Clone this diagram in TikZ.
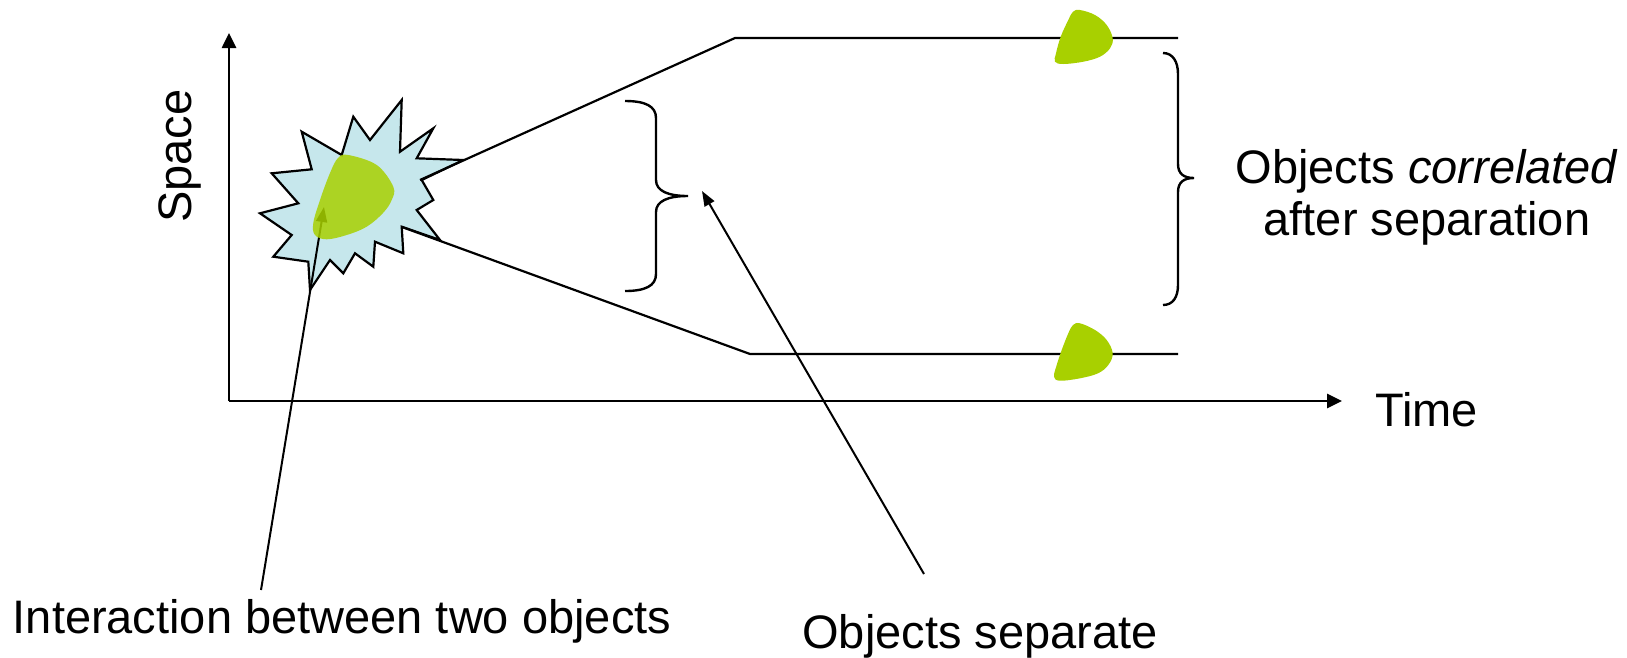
\documentclass[tikz,border=0pt]{standalone}
\usepackage{fontspec}
\setmainfont{Liberation Sans}
\usetikzlibrary{arrows.meta}
\definecolor{burstblue}{RGB}{198,231,236}
\definecolor{limegreen}{RGB}{168,208,0}
\begin{document}
\begin{tikzpicture}[x=1pt,y=-1pt,
  axis/.style={line width=2.6pt,-{Triangle[length=15pt,width=14pt]}},
  track/.style={line width=2.2pt, line join=miter},
  pointer/.style={line width=2pt,-{Triangle[length=15pt,width=11pt]}},
  bracket/.style={line width=2.4pt},
  label/.style={font=\fontsize{47}{52}\selectfont, inner sep=0pt},
  object/.style={fill=limegreen, draw=none},
  burst/.style={fill=burstblue, draw=black, line width=2.2pt, line join=miter},
]
\useasboundingbox (0,0) rectangle (1627,657);

% axes
\coordinate (origin) at (229,401);
\coordinate (spacetop) at (229,33);
\coordinate (timeend) at (1342,401);
\draw[axis] (origin) -- (spacetop);
\draw[axis] (origin) -- (timeend);

% interaction burst
\draw[burst] (401.7,100) -- (400,151.7) -- (433.3,128.3) -- (416.7,158.3)
  -- (463.3,160) -- (421.7,180) -- (433.3,200) -- (416.7,210)
  -- (440,240) -- (401.7,226.7) -- (403.3,253.3) -- (375,241.7)
  -- (373.3,266.7) -- (355,253.3) -- (343.3,273.3) -- (330,260)
  -- (310,290) -- (308.3,261.7) -- (273.3,256.7) -- (291.7,235)
  -- (260,213.3) -- (298.3,203.3) -- (271.7,173.3) -- (311.7,169.3)
  -- (301.7,131.7) -- (341.7,155) -- (353.3,116.7) -- (370,140) -- cycle;

% trajectories of the two objects
\coordinate (upstart) at (420,180);
\coordinate (upbend) at (735,38);
\coordinate (upend) at (1178,38);
\coordinate (lowstart) at (402,227);
\coordinate (lowbend) at (750,354);
\coordinate (lowend) at (1178,354);
\draw[track] (upstart) -- (upbend) -- (upend);
\draw[track] (lowstart) -- (lowbend) -- (lowend);

% pointer to the interaction
\coordinate (interfoot) at (261,590);
\coordinate (intertip) at (324,207);
\draw[pointer] (interfoot) -- (intertip);

% the merged object inside the burst
\fill[object, opacity=0.85] plot[smooth cycle, tension=0.6] coordinates {
  (348.3,155) (376.7,165) (393.3,186.7) (391.7,200) (383,213) (366.7,226.7)
  (346.7,235) (326.7,239.3) (315,235) (313.3,223) (320,200) (330,173) (338,158)};

% the separated objects
\fill[object] plot[smooth cycle, tension=0.6] coordinates {
  (1080,10) (1095,15) (1106.7,25) (1112.7,38.3) (1110,48.3) (1100,56.7)
  (1083.3,61.7) (1063.3,64) (1055,61.7) (1056,53.3) (1060.7,36.7)
  (1068.3,20) (1073,11.7)};
\fill[object] plot[smooth cycle, tension=0.6] coordinates {
  (1080,323.3) (1095,330) (1106.7,340) (1112.7,353.3) (1108.3,365) (1098,373.3)
  (1080,378.3) (1060,380.7) (1054,376.7) (1056.7,365) (1061.7,350)
  (1068.3,333.3) (1073,325)};

% small brace
\coordinate (sbtop) at (625,101);
\coordinate (sbtip) at (688,196);
\coordinate (sbbot) at (625,291);
\draw[bracket] (sbtop) .. controls (645,101) and (656,106) .. (656,118)
  -- (656,180) .. controls (656,191) and (668,196) .. (sbtip)
  .. controls (668,196) and (656,201) .. (656,212)
  -- (656,274) .. controls (656,286) and (645,291) .. (sbbot);

% large brace
\coordinate (lbtop) at (1163,53);
\coordinate (lbtip) at (1194,178);
\coordinate (lbbot) at (1163,305);
\draw[bracket] (lbtop) .. controls (1173,53) and (1178,62) .. (1178,74)
  -- (1178,164) .. controls (1178,174) and (1184,178) .. (lbtip)
  .. controls (1184,178) and (1178,182) .. (1178,192)
  -- (1178,285) .. controls (1178,297) and (1173,305) .. (lbbot);

% pointer to the separation
\coordinate (sepfoot) at (924,574);
\coordinate (septip) at (702,191);
\draw[pointer] (sepfoot) -- (septip);

% labels
\node[label, anchor=base, rotate=90] (space) at (191,156) {Space};
\node[label, anchor=base west] (time) at (1375,426) {Time};
\node[label, anchor=base] (corrone) at (1427,183) {Objects \textit{correlated}};
\node[label, anchor=base] (corrtwo) at (1427,235) {after separation};
\node[label, anchor=base] (inter) at (342,633) {Interaction between two objects};
\node[label, anchor=base] (sep) at (980,648) {Objects separate};
\end{tikzpicture}
\end{document}
